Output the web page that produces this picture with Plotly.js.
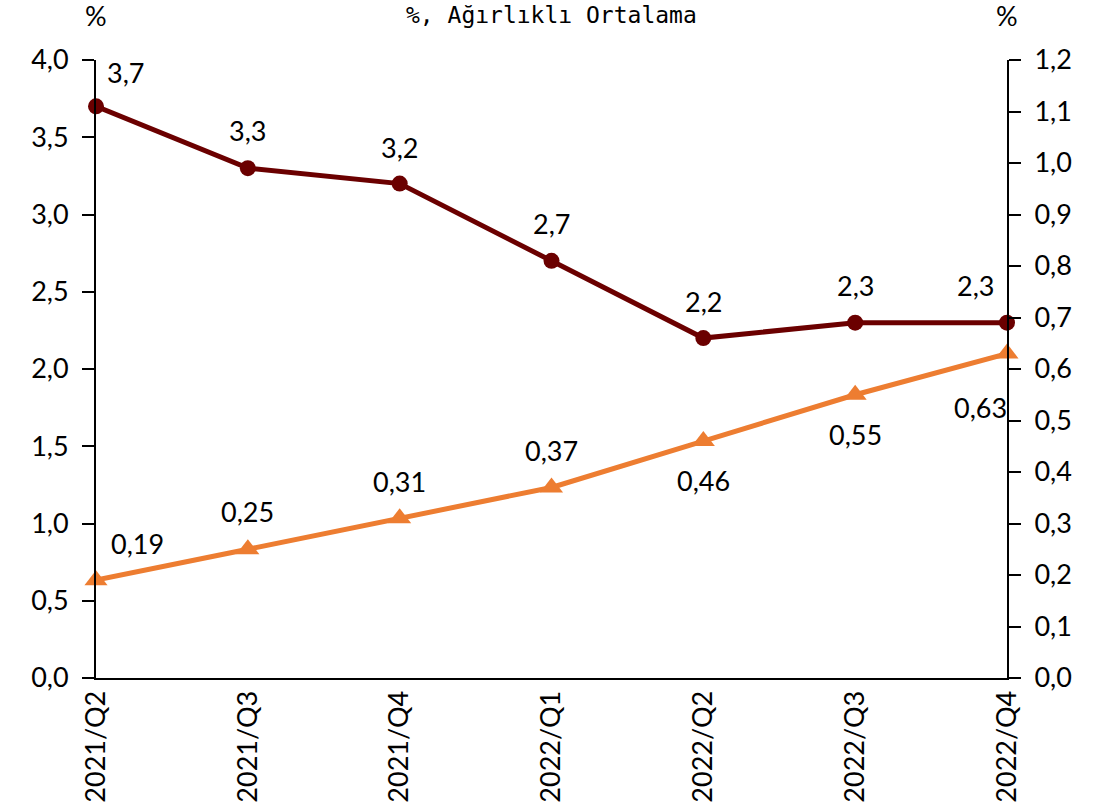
<!DOCTYPE html>
<html>
<head>
<meta charset="utf-8">
<script src="https://cdn.plot.ly/plotly-3.0.1.min.js"></script>
<style>body{margin:0;background:#fff}#C1{width:1120px;height:810px}</style>
</head>
<body>
<div id="C1"></div>
<script>
// quarters on the x axis
const quarters = ["2021/Q2", "2021/Q3", "2021/Q4", "2022/Q1", "2022/Q2", "2022/Q3", "2022/Q4"];
// left axis series (dark red)
const redValues = [3.7, 3.3, 3.2, 2.7, 2.2, 2.3, 2.3];
// right axis series (orange)
const orangeValues = [0.19, 0.25, 0.31, 0.37, 0.46, 0.55, 0.63];

const fmt = (v, d) => v.toFixed(d).replace(".", ",");

// label offsets in pixels (x, y) relative to each point
const redShift = [[29, 34], [0, 38], [0, 36], [0, 37], [0, 37], [0, 37], [-32, 37]];
const orangeShift = [[41, 37], [0, 38], [0, 37], [0, 37], [0, -39], [0, -40], [-27, -54]];

const FONT = "Lato, 'Open Sans', sans-serif";
const labelFont = {family: FONT, size: 27, color: "#000"};

const data = [{
  x: quarters,
  y: redValues,
  mode: "lines+markers",
  type: "scatter",
  line: {color: "#6B0000", width: 5},
  marker: {color: "#6B0000", size: 16, symbol: "circle"},
  cliponaxis: false,
  yaxis: "y"
}, {
  x: quarters,
  y: orangeValues,
  mode: "lines+markers",
  type: "scatter",
  line: {color: "#ED7D31", width: 5},
  marker: {color: "#ED7D31", size: 20, symbol: "triangle-up"},
  cliponaxis: false,
  yaxis: "y2"
}];

const annotations = [];
quarters.forEach((q, i) => {
  annotations.push({x: q, y: redValues[i], xref: "x", yref: "y", text: fmt(redValues[i], 1),
    showarrow: false, xshift: redShift[i][0], yshift: redShift[i][1], font: labelFont});
  annotations.push({x: q, y: orangeValues[i], xref: "x", yref: "y2", text: fmt(orangeValues[i], 2),
    showarrow: false, xshift: orangeShift[i][0], yshift: orangeShift[i][1], font: labelFont});
});
annotations.push(
  {text: "%, Ağırlıklı Ortalama", xref: "paper", yref: "paper", x: 0.5, y: 1, yshift: 60, yanchor: "top",
   showarrow: false, font: {family: "DejaVu Sans Mono", size: 23, color: "#000"}},
  {text: "%", xref: "paper", yref: "paper", x: 0, y: 1, xanchor: "center", yanchor: "middle", yshift: 45,
   showarrow: false, font: {family: FONT, size: 27, color: "#000"}},
  {text: "%", xref: "paper", yref: "paper", x: 1, y: 1, xanchor: "center", yanchor: "middle", yshift: 45,
   showarrow: false, font: {family: FONT, size: 27, color: "#000"}}
);

const yStyle = {
  showline: true,
  linecolor: "#000",
  linewidth: 2,
  ticks: "outside",
  ticklen: 12,
  tickwidth: 2,
  tickcolor: "#000",
  ticklabelstandoff: 8,
  showgrid: false,
  zeroline: false,
  tickformat: ".1f",
  tickfont: labelFont
};

const layout = {
  width: 1120,
  height: 810,
  showlegend: false,
  separators: ",.",
  margin: {l: 96, r: 113, t: 60, b: 132},
  font: labelFont,
  xaxis: {
    range: [0, 6],
    showline: true,
    linecolor: "#000",
    linewidth: 2,
    ticks: "",
    tickangle: -90,
    tickfont: labelFont,
    showgrid: false,
    zeroline: false
  },
  yaxis: Object.assign({range: [0, 4], dtick: 0.5}, yStyle),
  yaxis2: Object.assign({range: [0, 1.2], dtick: 0.1, overlaying: "y", side: "right"}, yStyle),
  annotations: annotations
};

Plotly.newPlot("C1", data, layout, {displayModeBar: false});
</script>
</body>
</html>
